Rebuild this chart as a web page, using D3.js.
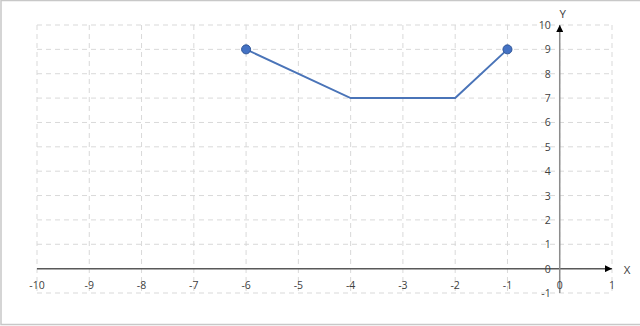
<!DOCTYPE html>
<html><head><meta charset="utf-8">
<script src="https://cdn.jsdelivr.net/npm/d3@7"></script>
<style>html,body{margin:0;padding:0;background:#fff;}svg{display:block;}</style>
</head><body>
<svg id="c" width="640" height="326"></svg>
<script>
const xTicks = [-10,-9,-8,-7,-6,-5,-4,-3,-2,-1,0,1];
const yTicks = [-1,0,1,2,3,4,5,6,7,8,9,10];
const xValues = [-6,-4,-2,-1];
const yValues = [9,7,7,9];
const markerIdx = [0,3];

const svg = d3.select("#c");
const x = d3.scaleLinear().domain([-10,1]).range([37,612]);
const y = d3.scaleLinear().domain([-1,10]).range([293,25]);
const font = "'Open Sans', 'Liberation Sans', sans-serif";

// frame
svg.append("rect").attr("x",1).attr("y",0.5).attr("width",660).attr("height",324)
  .attr("fill","none").attr("stroke","#c8c8c8").attr("stroke-width",1.5);

// grid
const g = svg.append("g");
g.selectAll("line.vx").data(xTicks).join("line")
  .attr("x1",d=>x(d)).attr("x2",d=>x(d)).attr("y1",y(10)).attr("y2",y(-1))
  .attr("stroke","#d9d9d9").attr("stroke-width",1).attr("stroke-dasharray","5,4");
g.selectAll("line.hy").data(yTicks).join("line")
  .attr("y1",d=>y(d)).attr("y2",d=>y(d)).attr("x1",x(-10)).attr("x2",x(1))
  .attr("stroke","#d9d9d9").attr("stroke-width",1).attr("stroke-dasharray","5,4");

// arrow markers
const defs = svg.append("defs");
defs.append("marker").attr("id","arr").attr("viewBox","0 0 10 10").attr("refX",10).attr("refY",5)
  .attr("markerWidth",7).attr("markerHeight",7).attr("markerUnits","userSpaceOnUse").attr("orient","auto")
  .append("path").attr("d","M0,0L10,5L0,10Z").attr("fill","#000");

// x axis
svg.append("line").attr("x1",x(-10)).attr("x2",x(1)).attr("y1",y(0)).attr("y2",y(0))
  .attr("stroke","#595959").attr("stroke-width",1.5).attr("marker-end","url(#arr)");
// y axis
svg.append("line").attr("x1",x(0)).attr("x2",x(0)).attr("y1",y(-1)).attr("y2",y(10))
  .attr("stroke","#8c8c8c").attr("stroke-width",1.5).attr("marker-end","url(#arr)");

// tick labels
svg.append("g").selectAll("text").data(xTicks).join("text")
  .attr("x",d=>x(d)).attr("y",y(0)+20).attr("text-anchor","middle")
  .attr("font-family",font).attr("font-size",10.5).attr("fill","#404040").text(d=>d);
svg.append("g").selectAll("text").data(yTicks).join("text")
  .attr("x",x(0)-9).attr("y",d=>y(d)+4).attr("text-anchor","end")
  .attr("font-family",font).attr("font-size",10.5).attr("fill","#404040").text(d=>d);

// axis titles
svg.append("text").attr("x",x(0)+3).attr("y",18).attr("text-anchor","middle")
  .attr("font-family",font).attr("font-size",11.5).attr("fill","#404040").text("Y");
svg.append("text").attr("x",627).attr("y",y(0)+5).attr("text-anchor","middle")
  .attr("font-family",font).attr("font-size",11.5).attr("fill","#404040").text("X");

// series
const pts = xValues.map((v,i)=>[v,yValues[i]]);
svg.append("path").datum(pts)
  .attr("d",d3.line().x(d=>x(d[0])).y(d=>y(d[1])))
  .attr("fill","none").attr("stroke","#4a74b8").attr("stroke-width",2);
svg.append("g").selectAll("circle").data(markerIdx.map(i=>pts[i])).join("circle")
  .attr("cx",d=>x(d[0])).attr("cy",d=>y(d[1])).attr("r",4.5)
  .attr("fill","#4472c4").attr("stroke","#2f5597").attr("stroke-width",1);
</script>
</body></html>
